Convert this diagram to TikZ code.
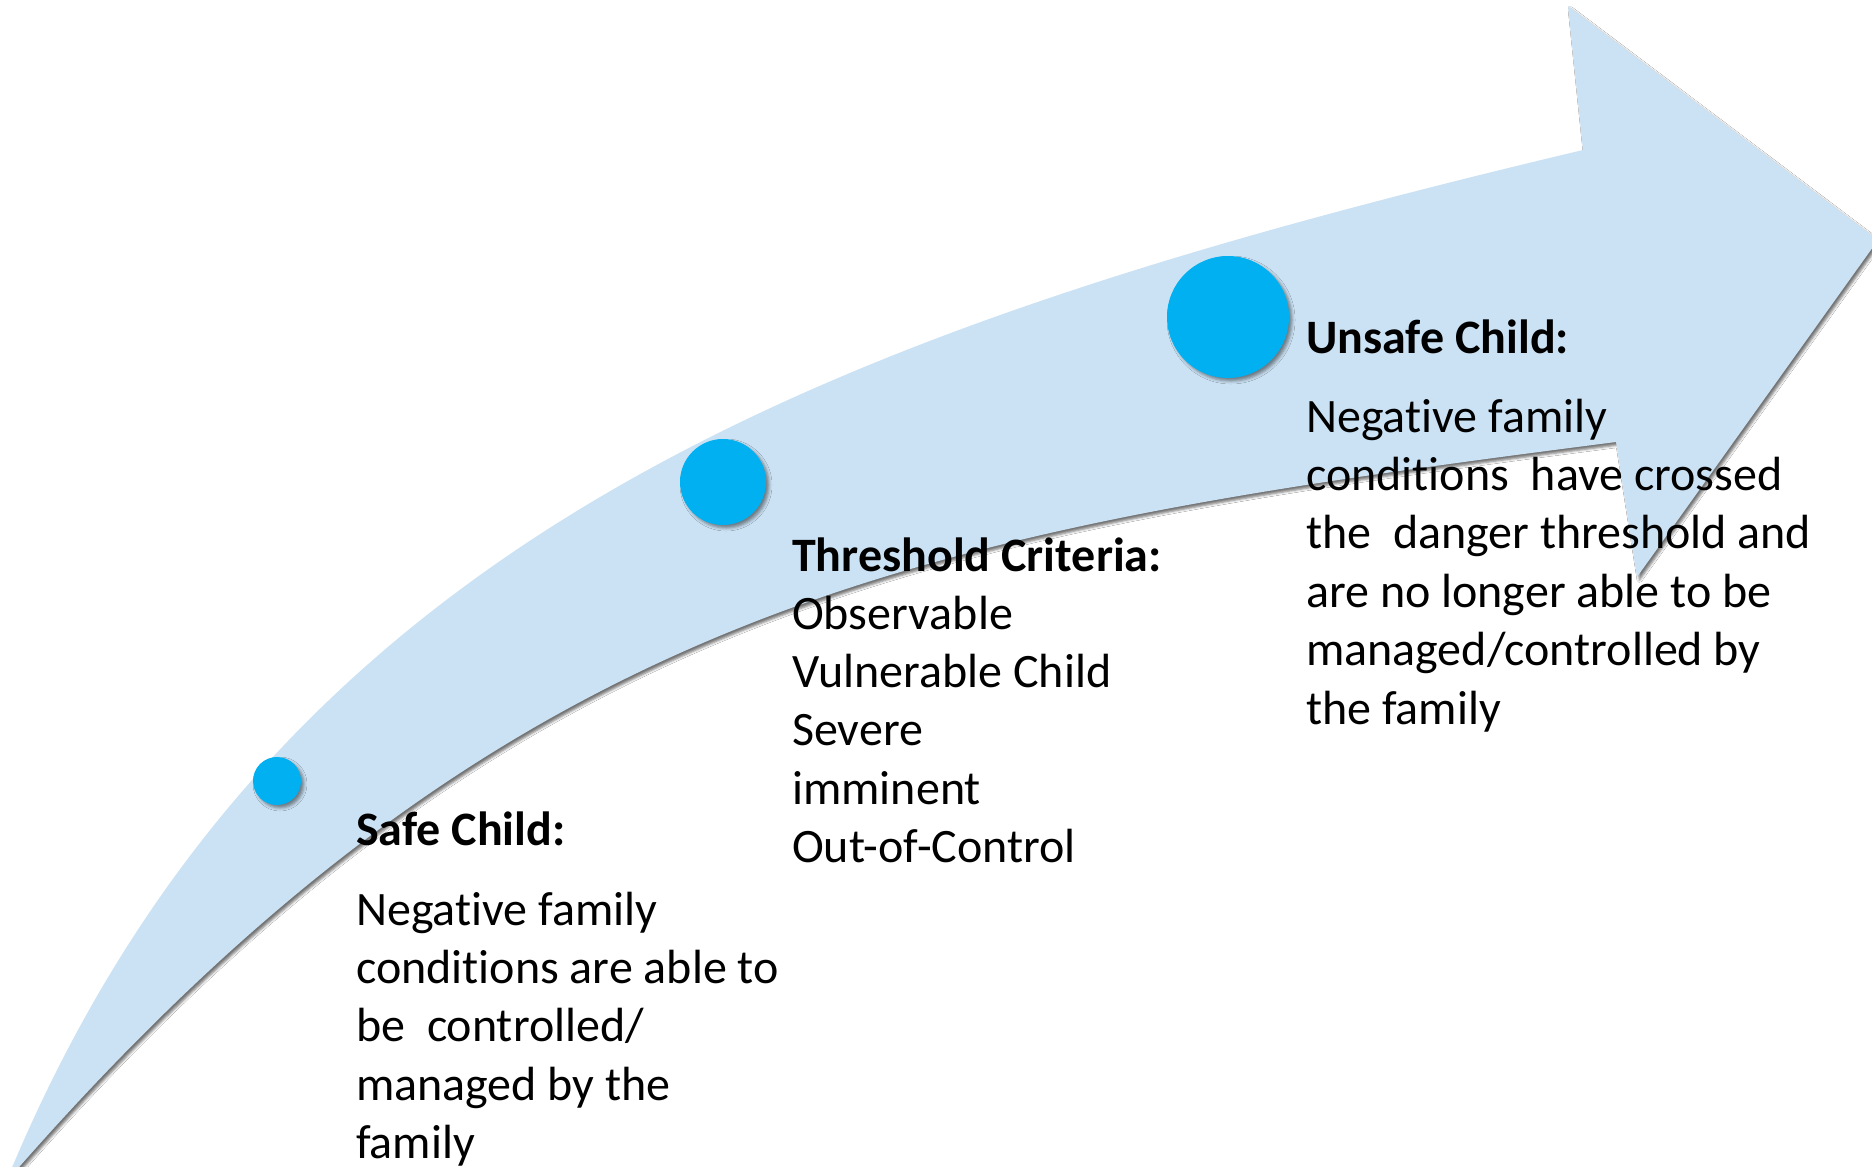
\documentclass[tikz,border=0pt]{standalone}
\usepackage{fontspec}
\setmainfont{Carlito}[Ligatures=NoCommon]
\usetikzlibrary{shadows.blur}
\definecolor{arrowblue}{RGB}{203,226,244}
\definecolor{dotblue}{RGB}{0,176,240}
\begin{document}
\begin{tikzpicture}[x=1pt,y=-1pt,
  arrowshape/.style={fill=arrowblue, blur shadow={shadow xshift=2.5pt, shadow yshift=-3pt, shadow blur radius=2.5pt, shadow opacity=55}},
  dot/.style={circle, fill=dotblue, inner sep=0pt, blur shadow={shadow xshift=3pt, shadow yshift=-3pt, shadow blur radius=3pt, shadow opacity=45}},
  headtext/.style={font=\fontsize{48}{58.4}\selectfont\bfseries, anchor=base west, inner sep=0pt},
  bodytext/.style={font=\fontsize{48}{58.4}\selectfont, anchor=base west, inner sep=0pt, align=left}]
\clip (0,0) rectangle (1872,1167);
\fill[white] (0,0) rectangle (1872,1167);
% curved arrow
\coordinate (tail) at (6,1182);
\coordinate (unotch) at (1583,150);
\coordinate (htop) at (1568,6);
\coordinate (htip) at (1878,240);
\coordinate (hbot) at (1637,577);
\coordinate (lnotch) at (1616,442);
\path[arrowshape] (tail) .. controls (272,534) and (830,329) .. (unotch)
  -- (htop) -- (htip) -- (hbot) -- (lnotch)
  .. controls (922,531) and (511,601) .. (tail) -- cycle;
% dots
\node[dot, minimum size=48pt] (d1) at (277,781) {};
\node[dot, minimum size=86pt] (d2) at (723,482) {};
\node[dot, minimum size=122pt] (d3) at (1228,317) {};
% texts (base anchor = last line)
\node[headtext] (h1) at (356,845) {Safe Child:};
\node[bodytext] (b1) at (356,1158.6) {Negative family\\conditions are able to\\be~ controlled/\\managed by the\\family};
\node[headtext] (h2) at (792,571) {Threshold Criteria:};
\node[bodytext] (b2) at (792,862.6) {Observable\\Vulnerable Child\\Severe\\imminent\\Out-of-Control};
\node[headtext] (h3) at (1306,353) {Unsafe Child:};
\node[bodytext] (b3) at (1306,724) {Negative family\\conditions~ have crossed\\the~ danger threshold and\\are no longer able to be\\managed/controlled by\\the family};
\end{tikzpicture}
\end{document}
